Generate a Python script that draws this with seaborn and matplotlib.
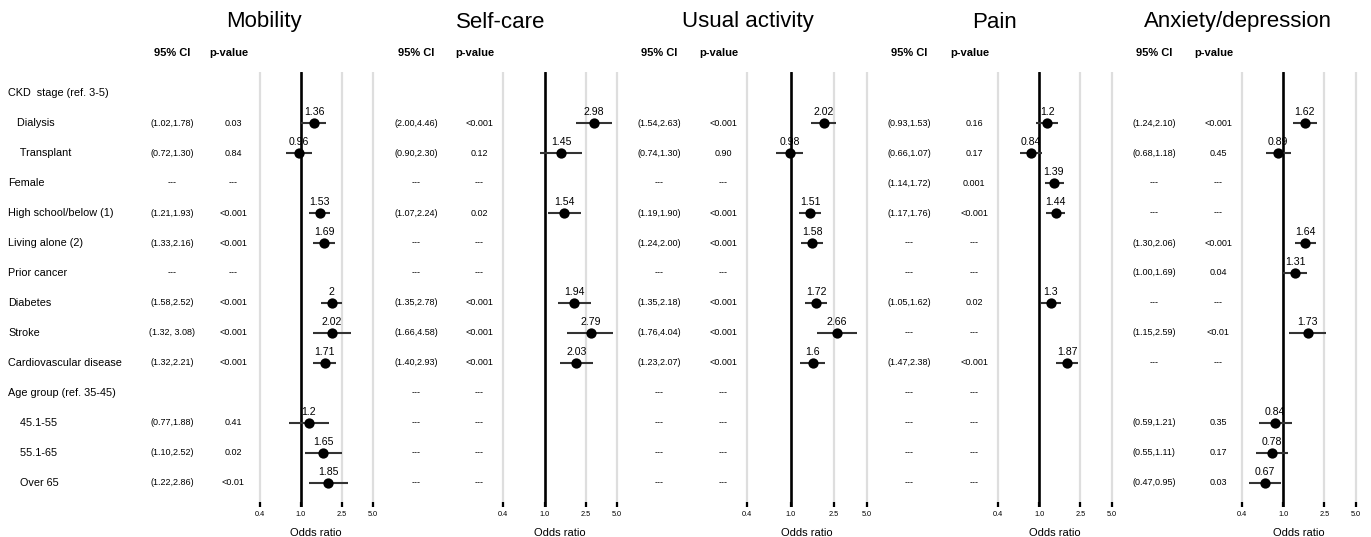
import numpy as np
import pandas as pd
import matplotlib
matplotlib.use("Agg")
import matplotlib.pyplot as plt
import matplotlib.transforms as mtransforms
from matplotlib.ticker import NullLocator
import seaborn as sns

sns.set_theme(style="white")
plt.rcParams["font.family"] = ["Liberation Sans", "DejaVu Sans"]
plt.rcParams.update({
    "text.color": "black",
    "axes.labelcolor": "black",
    "xtick.color": "black",
    "xtick.labelcolor": "black",
})

W, H = 1371, 537
NA = np.nan
D = "---"

ROW_LABELS = [
    "CKD  stage (ref. 3-5)", "   Dialysis", "    Transplant", "Female",
    "High school/below (1)", "Living alone (2)", "Prior cancer", "Diabetes",
    "Stroke", "Cardiovascular disease", "Age group (ref. 35-45)",
    "    45.1-55", "    55.1-65", "    Over 65",
]

PANELS = ["Mobility", "Self-care", "Usual activity", "Pain", "Anxiety/depression"]

mobility_or = [NA, 1.36, 0.96, NA, 1.53, 1.69, NA, 2.00, 2.02, 1.71, NA, 1.20, 1.65, 1.85]
mobility_ci = ["", "(1.02,1.78)", "(0.72,1.30)", D, "(1.21,1.93)", "(1.33,2.16)", D,
               "(1.58,2.52)", "(1.32, 3.08)", "(1.32,2.21)", "", "(0.77,1.88)", "(1.10,2.52)", "(1.22,2.86)"]
mobility_p = ["", "0.03", "0.84", D, "<0.001", "<0.001", D,
              "<0.001", "<0.001", "<0.001", "", "0.41", "0.02", "<0.01"]

selfcare_or = [NA, 2.98, 1.45, NA, 1.54, NA, NA, 1.94, 2.79, 2.03, NA, NA, NA, NA]
selfcare_ci = ["", "(2.00,4.46)", "(0.90,2.30)", D, "(1.07,2.24)", D, D,
               "(1.35,2.78)", "(1.66,4.58)", "(1.40,2.93)", D, D, D, D]
selfcare_p = ["", "<0.001", "0.12", D, "0.02", D, D,
              "<0.001", "<0.001", "<0.001", D, D, D, D]

usual_or = [NA, 2.02, 0.98, NA, 1.51, 1.58, NA, 1.72, 2.66, 1.60, NA, NA, NA, NA]
usual_ci = ["", "(1.54,2.63)", "(0.74,1.30)", D, "(1.19,1.90)", "(1.24,2.00)", D,
            "(1.35,2.18)", "(1.76,4.04)", "(1.23,2.07)", D, D, D, D]
usual_p = ["", "<0.001", "0.90", D, "<0.001", "<0.001", D,
           "<0.001", "<0.001", "<0.001", D, D, D, D]

pain_or = [NA, 1.20, 0.84, 1.39, 1.44, NA, NA, 1.30, NA, 1.87, NA, NA, NA, NA]
pain_ci = ["", "(0.93,1.53)", "(0.66,1.07)", "(1.14,1.72)", "(1.17,1.76)", D, D,
           "(1.05,1.62)", D, "(1.47,2.38)", D, D, D, D]
pain_p = ["", "0.16", "0.17", "0.001", "<0.001", D, D,
          "0.02", D, "<0.001", D, D, D, D]

anxiety_or = [NA, 1.62, 0.89, NA, NA, 1.64, 1.31, NA, 1.73, NA, NA, 0.84, 0.78, 0.67]
anxiety_ci = ["", "(1.24,2.10)", "(0.68,1.18)", D, D, "(1.30,2.06)", "(1.00,1.69)",
              D, "(1.15,2.59)", D, "", "(0.59,1.21)", "(0.55,1.11)", "(0.47,0.95)"]
anxiety_p = ["", "<0.001", "0.45", D, D, "<0.001", "0.04",
             D, "<0.01", D, "", "0.35", "0.17", "0.03"]

TICKS = [0.4, 1.0, 2.5, 5.0]
TICK_LABELS = ["0.4", "1.0", "2.5", "5.0"]

# pixel layout per panel: x of 0.4, x of 5.0, CI column, p column, title centre
LAYOUT = [
    (259.5, 372.7, 172, 233, 264),
    (503.3, 617.0, 416, 479, 501),
    (747.3, 866.7, 659, 723, 748),
    (997.7, 1111.7, 909, 974, 995),
    (1241.7, 1355.7, 1154, 1218, 1238),
]


def ci_bounds(text):
    if not text.startswith("("):
        return NA, NA
    lo, hi = text.strip("()").split(",")
    return float(lo), float(hi)


def build_frame(odds, ci, p):
    bounds = [ci_bounds(t) for t in ci]
    return pd.DataFrame({
        "row": np.arange(len(ROW_LABELS)),
        "or": odds,
        "lo": [b[0] for b in bounds],
        "hi": [b[1] for b in bounds],
        "ci": ci,
        "p": p,
    })


frames = [
    build_frame(mobility_or, mobility_ci, mobility_p),
    build_frame(selfcare_or, selfcare_ci, selfcare_p),
    build_frame(usual_or, usual_ci, usual_p),
    build_frame(pain_or, pain_ci, pain_p),
    build_frame(anxiety_or, anxiety_ci, anxiety_p),
]

fig = plt.figure(figsize=(W / 100, H / 100), dpi=100)
top_px, bottom_px = 71.7, 507.0
pad = 1.08

for i, (name, df, (x04, x5, ci_x, p_x, title_x)) in enumerate(zip(PANELS, frames, LAYOUT)):
    ppl = (x5 - x04) / np.log(5.0 / 0.4)
    left = x04 - np.log(pad) * ppl
    right = x5 + np.log(pad) * ppl
    ax = fig.add_axes([left / W, 1 - bottom_px / H, (right - left) / W, (bottom_px - top_px) / H])
    ax.set_xscale("log")
    ax.set_xlim(0.4 / pad, 5.0 * pad)
    ax.set_ylim(13.8, -0.71)

    for v in [0.4, 2.5, 5.0]:
        ax.axvline(v, color="#dedede", lw=1.6, zorder=0)
    ax.axvline(1.0, color="black", lw=1.9, zorder=1)

    pts = df.dropna(subset=["or"])
    ax.hlines(pts["row"], pts["lo"], pts["hi"], color="#333333", lw=1.5, zorder=3)
    sns.scatterplot(data=pts, x="or", y="row", color="black", s=55, linewidth=0,
                    ax=ax, zorder=4, legend=False)
    for _, r in pts.iterrows():
        ax.text(r["or"], r["row"] - 0.37, f"{r['or']:g}", ha="center", va="center", fontsize=7.6)

    ax.set_xticks(TICKS)
    ax.set_xticklabels(TICK_LABELS)
    ax.xaxis.set_minor_locator(NullLocator())
    ax.set_yticks([])
    ax.tick_params(axis="x", bottom=True, direction="in", length=3.5, width=1.6,
                   color="black", labelsize=5.3, pad=3)
    ax.set_xlabel("Odds ratio", fontsize=8, labelpad=7)
    ax.set_ylabel("")
    sns.despine(ax=ax, left=True, bottom=True)

    trans = mtransforms.blended_transform_factory(fig.transFigure, ax.transData)
    for _, r in df.iterrows():
        ax.text(ci_x / W, r["row"], r["ci"], transform=trans, ha="center", va="center", fontsize=6.5)
        ax.text(p_x / W, r["row"], r["p"], transform=trans, ha="center", va="center", fontsize=6.5)
    if i == 0:
        for row, label in enumerate(ROW_LABELS):
            ax.text(8 / W, row, label, transform=trans, ha="left", va="center", fontsize=7.8)

    fig.text(title_x / W, 1 - 22 / H, name, ha="center", va="center", fontsize=16)
    fig.text(ci_x / W, 1 - 53 / H, "95% CI", ha="center", va="center", fontsize=8, fontweight="bold")
    fig.text((p_x - 4) / W, 1 - 53 / H, "p-value", ha="center", va="center", fontsize=8, fontweight="bold")

fig.savefig("out.png", dpi=100)
